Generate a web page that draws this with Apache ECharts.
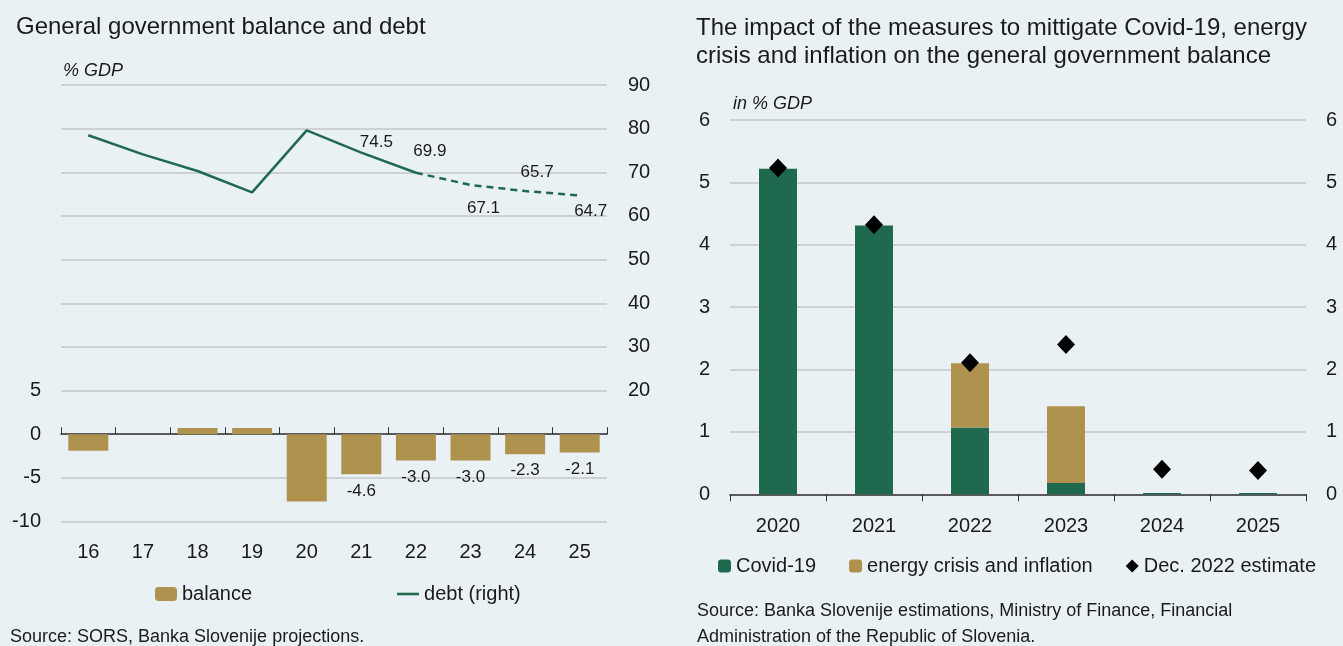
<!DOCTYPE html>
<html>
<head>
<meta charset="utf-8">
<script src="https://cdn.jsdelivr.net/npm/echarts@6/dist/echarts.min.js"></script>
<style>
  html, body { margin: 0; padding: 0; background: #eaf1f5; }
  #chart { width: 1343px; height: 646px; }
</style>
</head>
<body>
<div id="chart"></div>
<script>
// left panel data
const years = ['16', '17', '18', '19', '20', '21', '22', '23', '24', '25']
const balance = [-1.9, 0.0, 0.7, 0.7, -7.7, -4.6, -3.0, -3.0, -2.3, -2.1]
const debt = [78.5, 74.1, 70.3, 65.4, 79.6, 74.5, 69.9, 67.1, 65.7, 64.7]
const debtProjFrom = 6 // 2022 onwards dashed

// right panel data
const measureYears = ['2020', '2021', '2022', '2023', '2024', '2025']
const covid = [5.22, 4.31, 1.07, 0.18, 0.02, 0.02]
const energy = [0, 0, 1.03, 1.23, 0, 0]
const dec2022 = [5.23, 4.32, 2.11, 2.40, 0.40, 0.38]

const GREEN = '#1f6a4f'
const GOLD = '#b0924f'
const FONT = 'Liberation Sans, Arial, sans-serif'
const GRIDLINE = { lineStyle: { color: '#c3c6c8', width: 1.5 } }
const TXT = '#1a1a1a'

// which data labels are shown and where they sit (px from the point)
const balLabelFrom = 5
const debtLabelOffset = { 5: [15, -10], 6: [14, -21], 7: [13, 23], 8: [12, -19], 9: [11, 16] }

var myChart = echarts.init(document.getElementById('chart'))

let debtSolid = debt.map((v, i) => i <= debtProjFrom ? v : '-')
let debtDash = debt.map((v, i) => i >= debtProjFrom ? v : '-')

function debtData (arr) {
  return arr.map((v, i) => {
    if (v === '-' || !debtLabelOffset[i]) return v
    return { value: v, label: { show: true, position: 'inside', offset: debtLabelOffset[i] } }
  })
}
let solidData = debtData(debtSolid)
// the joint point is labelled by the solid series only
let dashData = debtData(debtDash).map((d, i) => i === debtProjFrom ? debt[i] : d)

let lineLabel = { show: false, color: TXT, fontSize: 17, fontFamily: FONT, formatter: p => p.value.toFixed(1) }

function txt (size, extra) {
  return Object.assign({ fontSize: size, fontWeight: 'normal', color: TXT, fontFamily: FONT }, extra || {})
}

myChart.setOption({
  backgroundColor: '#eaf1f5',
  textStyle: { fontFamily: FONT },
  animation: false,
  title: [
    { text: 'General government balance and debt', left: 16, top: 15, padding: 0, textStyle: txt(24) },
    { text: 'The impact of the measures to mittigate Covid-19, energy\ncrisis and inflation on the general government balance', left: 696, top: 14, padding: 0, textStyle: txt(24, { lineHeight: 28 }) },
    { text: '% GDP', left: 63, top: 62, padding: 0, textStyle: txt(18, { fontStyle: 'italic' }) },
    { text: 'in % GDP', left: 733, top: 95, padding: 0, textStyle: txt(18, { fontStyle: 'italic' }) },
    { text: 'Source: SORS, Banka Slovenije projections.', left: 10, top: 628, padding: 0, textStyle: txt(18) },
    { text: 'Source: Banka Slovenije estimations, Ministry of Finance, Financial\nAdministration of the Republic of Slovenia.', left: 697, top: 598, padding: 0, textStyle: txt(18, { lineHeight: 26 }) }
  ],
  legend: [
    {
      data: ['balance', { name: 'debt (right)', icon: 'path://M0,0H22V2.6H0Z', itemStyle: { color: GREEN } }],
      left: 155, top: 584, padding: 0, itemGap: 145,
      itemWidth: 22, itemHeight: 14,
      textStyle: { fontSize: 20, color: TXT, fontFamily: FONT }
    },
    {
      data: ['Covid-19', 'energy crisis and inflation', 'Dec. 2022 estimate'],
      left: 718, top: 556, padding: 0, itemGap: 33,
      itemWidth: 13, itemHeight: 13,
      textStyle: { fontSize: 20, color: TXT, fontFamily: FONT }
    }
  ],
  grid: [
    { left: 61, right: 736, top: 85, bottom: 124.5 },
    { left: 730, right: 37, top: 120, bottom: 151.7 }
  ],
  xAxis: [
    {
      type: 'category', gridIndex: 0, data: years,
      axisLine: { show: false }, axisTick: { show: false },
      axisLabel: { margin: 21, fontSize: 20, color: TXT }
    },
    {
      type: 'category', gridIndex: 0, data: years,
      axisLine: { onZero: true, onZeroAxisIndex: 0, lineStyle: { color: '#333', width: 1.5 } },
      axisTick: { show: true, length: 7, lineStyle: { color: '#333' } },
      axisLabel: { show: false }
    },
    {
      type: 'category', gridIndex: 1, data: measureYears,
      axisLine: { lineStyle: { color: '#333', width: 1.5 } },
      axisTick: { show: true, length: 7, lineStyle: { color: '#333' } },
      axisLabel: { margin: 22, fontSize: 20, color: TXT }
    }
  ],
  yAxis: [
    {
      type: 'value', gridIndex: 0, min: -10, max: 40, interval: 5,
      axisLabel: { margin: 20, fontSize: 20, color: TXT, formatter: v => v <= 5 ? v : '' },
      splitLine: GRIDLINE
    },
    {
      type: 'value', gridIndex: 0, position: 'right', min: -10, max: 90, interval: 10,
      axisLabel: { margin: 21, fontSize: 20, color: TXT, formatter: v => v >= 20 ? v : '' },
      splitLine: { show: false }
    },
    {
      type: 'value', gridIndex: 1, min: 0, max: 6, interval: 1,
      axisLabel: { margin: 20, fontSize: 20, color: TXT },
      splitLine: GRIDLINE
    },
    {
      type: 'value', gridIndex: 1, position: 'right', min: 0, max: 6, interval: 1,
      axisLabel: { margin: 20, fontSize: 20, color: TXT },
      splitLine: { show: false }
    }
  ],
  series: [
    {
      name: 'balance', type: 'bar', xAxisIndex: 0, yAxisIndex: 0,
      barWidth: 40, itemStyle: { color: GOLD },
      data: balance.map((v, i) => i >= balLabelFrom
        ? { value: v, label: { show: true, position: 'bottom', distance: 8, color: TXT, fontSize: 17, formatter: p => p.value.toFixed(1) } }
        : v)
    },
    {
      name: 'debt (right)', type: 'line', xAxisIndex: 0, yAxisIndex: 1,
      symbol: 'circle', symbolSize: 0.1, showSymbol: true,
      lineStyle: { color: GREEN, width: 2.5 }, itemStyle: { color: GREEN },
      label: lineLabel,
      data: solidData
    },
    {
      name: 'debt proj', type: 'line', xAxisIndex: 0, yAxisIndex: 1,
      symbol: 'circle', symbolSize: 0.1, showSymbol: true,
      lineStyle: { color: GREEN, width: 2.5, type: [7, 5] }, itemStyle: { color: GREEN },
      label: lineLabel,
      data: dashData
    },
    {
      name: 'Covid-19', type: 'bar', xAxisIndex: 2, yAxisIndex: 2, stack: 'm',
      barWidth: 38, itemStyle: { color: GREEN },
      data: covid
    },
    {
      name: 'energy crisis and inflation', type: 'bar', xAxisIndex: 2, yAxisIndex: 2, stack: 'm',
      barWidth: 38, itemStyle: { color: GOLD },
      data: energy
    },
    {
      name: 'Dec. 2022 estimate', type: 'scatter', xAxisIndex: 2, yAxisIndex: 2,
      symbol: 'diamond', symbolSize: [18, 19], itemStyle: { color: '#000', opacity: 1 },
      z: 5,
      data: dec2022
    }
  ]
})
</script>
</body>
</html>
